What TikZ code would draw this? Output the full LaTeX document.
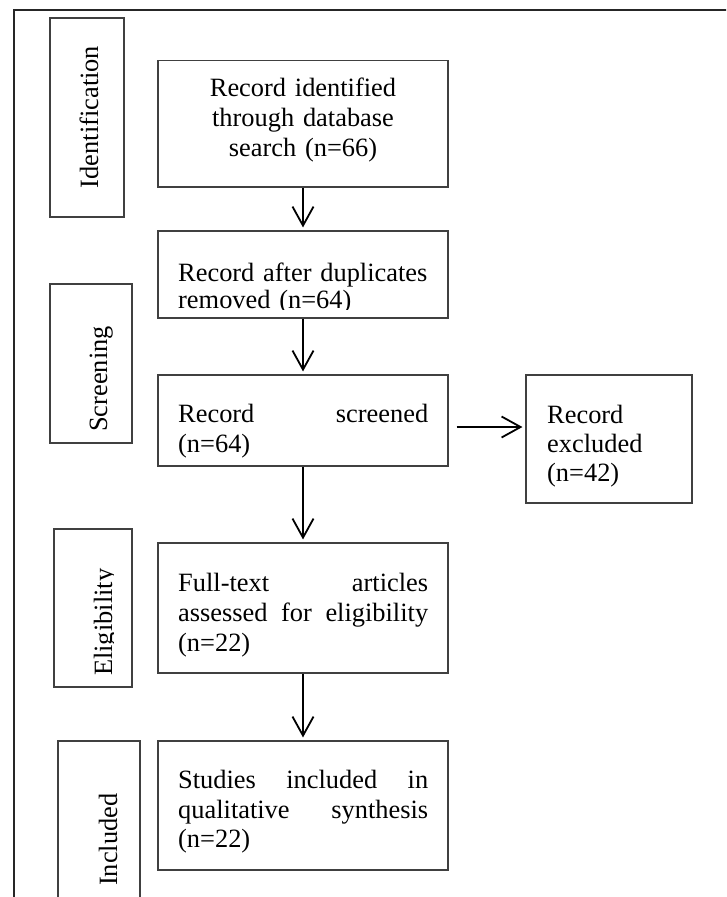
\documentclass[tikz,border=0pt]{standalone}
\usepackage{fontspec}
\setmainfont{Liberation Serif}
\usetikzlibrary{arrows.meta,calc}
\AtBeginDocument{\hyphenpenalty=10000\exhyphenpenalty=10000}
\begin{document}
\begin{tikzpicture}[x=1pt,y=-1pt,
  frameline/.style={draw=black!85,line width=2pt},
  stagebox/.style={draw=black!75,line width=1.1pt,inner sep=0pt},
  flowbox/.style={draw=black!75,line width=1.1pt,inner sep=0pt,minimum width=290pt},
  txt/.style={inner sep=0pt,text width=250pt,align=left,anchor=base west,
              font=\fontsize{26.4}{29.7}\selectfont},
  stagetxt/.style={inner sep=0pt,rotate=90,font=\fontsize{26.4}{29.7}\selectfont},
  arr/.style={line width=1.8pt,-{Straight Barb[length=19pt,width=21pt,line width=1.8pt]}}
]
\useasboundingbox (0,0) rectangle (726,897);
\clip (0,0) rectangle (726,897);
% outer frame
\draw[frameline] (14,9.5) rectangle (760,930);

% stage boxes
\node[stagebox,minimum width=74pt,minimum height=199pt] (sid) at (87,117.5) {};
\node[stagebox,minimum width=82pt,minimum height=159pt] (sscr) at (91,363.5) {};
\node[stagebox,minimum width=78pt,minimum height=158pt] (seli) at (93,608) {};
\node[stagebox,minimum width=82pt,minimum height=200pt] (sinc) at (99,841) {};

\node[stagetxt,anchor=base] (tid) at (98,117) {Identification};
\node[stagetxt,anchor=base west] (tscr) at (107,432) {Screening};
\begin{scope}
  \clip (54,529) rectangle (113.3,687);
  \node[stagetxt,anchor=base west] (teli) at (112,676) {Eligibility};
\end{scope}
\node[stagetxt,anchor=base west] (tinc) at (117,886) {Included};

% flow boxes
\node[flowbox,minimum height=126.5pt] (b1) at (303,123.75) {};
\node[flowbox,minimum height=87pt] (b2) at (303,274.5) {};
\node[flowbox,minimum height=91pt] (b3) at (303,420.5) {};
\node[stagebox,minimum width=166pt,minimum height=128pt] (ex) at (609,439) {};
\node[flowbox,minimum height=130pt] (b4) at (303,608) {};
\node[flowbox,minimum height=129pt] (b5) at (303,805.5) {};

% texts
\node[txt,text width=270pt,align=center,anchor=base,font=\fontsize{26.4}{30.3}\selectfont] (t1) at (303,96)
  {Record identified\\through database\\search (n=66)};
\begin{scope}
  \clip (158,231) rectangle (448,309.5);
  \node[txt,text width=270pt,font=\fontsize{26.4}{26.5}\selectfont] (t2) at (178,281.7)
    {Record after duplicates\\removed (n=64)};
\end{scope}
\node[txt] (t3) at (178,422.7) {Record \hfill screened\\(n=64)};
\node[txt,text width=130pt,font=\fontsize{26.4}{29}\selectfont] (tex) at (547,423.3) {Record\\excluded\\(n=42)};
\node[txt] (t4) at (178,591.7)
  {Full-text \hfill articles\\assessed \hfill for \hfill eligibility\\(n=22)};
\node[txt] (t5) at (178,788.3)
  {Studies \hfill included \hfill in\\qualitative \hfill synthesis\\(n=22)};

% connectors
\draw[arr,shorten >=3pt] (b1.south) -- (b2.north);
\draw[arr,shorten >=3pt] (b2.south) -- (b3.north);
\draw[arr,shorten >=3pt] (b3.south) -- (b4.north);
\draw[arr,shorten >=3pt] (b4.south) -- (b5.north);
\draw[arr,shorten <=8pt,shorten >=3pt] ([yshift=-6.5pt]b3.east) -- ([yshift=-6.5pt]b3.east -| ex.west);
\end{tikzpicture}
\end{document}
